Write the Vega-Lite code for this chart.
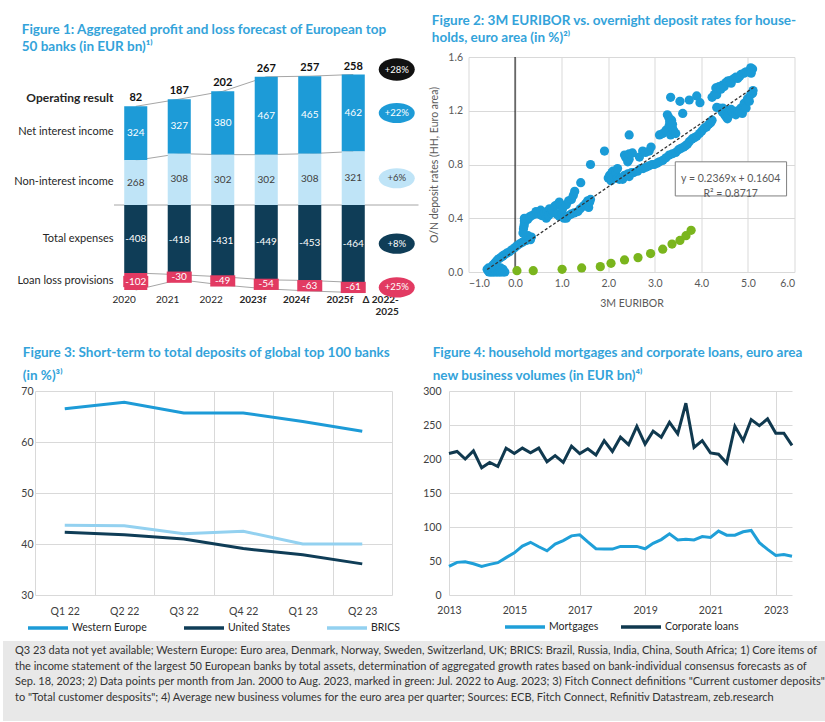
{
  "$schema": "https://vega.github.io/schema/vega-lite/v6.json",
  "background": "white",
  "padding": {"left": 0, "top": 13, "right": 0, "bottom": 0},
  "config": {
    "font": "Lato",
    "view": {"stroke": null},
    "axis": {"labelFont": "Lato", "labelFontSize": 10.5, "labelColor": "#404040", "titleFont": "Lato", "titleFontSize": 10.5, "titleFontWeight": "normal", "titleColor": "#404040", "gridColor": "#d9d9d9", "domain": false, "ticks": false, "labelOverlap": false},
    "legend": {"labelFont": "Lato", "labelFontSize": 10.5, "labelColor": "#262626", "layout": {"bottom": {"anchor": "middle"}}},
    "title": {"font": "Lato", "fontWeight": "bold", "fontSize": 13.5, "color": "#33a3da", "anchor": "start", "frame": "bounds"}
  },
  "resolve": {"scale": {"color": "independent"}, "legend": {"color": "independent"}},
  "datasets": {
    "pl": [
      {"year": "2020", "item": "Net interest income", "v": 324, "o": 2, "op": "82"},
      {"year": "2020", "item": "Non-interest income", "v": 268, "o": 1},
      {"year": "2020", "item": "Total expenses", "v": -408, "o": 3},
      {"year": "2020", "item": "Loan loss provisions", "v": -102, "o": 4},
      {"year": "2021", "item": "Net interest income", "v": 327, "o": 2, "op": "187"},
      {"year": "2021", "item": "Non-interest income", "v": 308, "o": 1},
      {"year": "2021", "item": "Total expenses", "v": -418, "o": 3},
      {"year": "2021", "item": "Loan loss provisions", "v": -30, "o": 4},
      {"year": "2022", "item": "Net interest income", "v": 380, "o": 2, "op": "202"},
      {"year": "2022", "item": "Non-interest income", "v": 302, "o": 1},
      {"year": "2022", "item": "Total expenses", "v": -431, "o": 3},
      {"year": "2022", "item": "Loan loss provisions", "v": -49, "o": 4},
      {"year": "2023f", "item": "Net interest income", "v": 467, "o": 2, "op": "267"},
      {"year": "2023f", "item": "Non-interest income", "v": 302, "o": 1},
      {"year": "2023f", "item": "Total expenses", "v": -449, "o": 3},
      {"year": "2023f", "item": "Loan loss provisions", "v": -54, "o": 4},
      {"year": "2024f", "item": "Net interest income", "v": 465, "o": 2, "op": "257"},
      {"year": "2024f", "item": "Non-interest income", "v": 308, "o": 1},
      {"year": "2024f", "item": "Total expenses", "v": -453, "o": 3},
      {"year": "2024f", "item": "Loan loss provisions", "v": -63, "o": 4},
      {"year": "2025f", "item": "Net interest income", "v": 462, "o": 2, "op": "258", "opd": "+28%", "delta": "+22%"},
      {"year": "2025f", "item": "Non-interest income", "v": 321, "o": 1, "delta": "+6%"},
      {"year": "2025f", "item": "Total expenses", "v": -464, "o": 3, "delta": "+8%"},
      {"year": "2025f", "item": "Loan loss provisions", "v": -61, "o": 4, "delta": "+25%"}
    ],
    "sc": [
      {"x": -0.6, "y": 0.02, "s": "b"}, {"x": -0.58, "y": 0.01, "s": "b"}, {"x": -0.57, "y": 0.03, "s": "b"}, {"x": -0.56, "y": 0.0, "s": "b"}, {"x": -0.55, "y": 0.02, "s": "b"}, {"x": -0.54, "y": 0.01, "s": "b"}, {"x": -0.53, "y": 0.0, "s": "b"}, {"x": -0.52, "y": 0.03, "s": "b"}, {"x": -0.51, "y": 0.01, "s": "b"}, {"x": -0.5, "y": 0.0, "s": "b"}, {"x": -0.49, "y": 0.02, "s": "b"}, {"x": -0.48, "y": 0.01, "s": "b"}, {"x": -0.47, "y": 0.0, "s": "b"}, {"x": -0.46, "y": 0.03, "s": "b"}, {"x": -0.45, "y": 0.01, "s": "b"}, {"x": -0.44, "y": 0.0, "s": "b"}, {"x": -0.43, "y": 0.02, "s": "b"}, {"x": -0.42, "y": 0.04, "s": "b"}, {"x": -0.41, "y": 0.01, "s": "b"}, {"x": -0.4, "y": 0.0, "s": "b"}, {"x": -0.39, "y": 0.02, "s": "b"}, {"x": -0.38, "y": 0.03, "s": "b"}, {"x": -0.37, "y": 0.0, "s": "b"}, {"x": -0.36, "y": 0.01, "s": "b"}, {"x": -0.35, "y": 0.02, "s": "b"}, {"x": -0.33, "y": 0.0, "s": "b"}, {"x": -0.32, "y": 0.01, "s": "b"}, {"x": -0.31, "y": 0.03, "s": "b"}, {"x": -0.3, "y": 0.0, "s": "b"}, {"x": -0.28, "y": 0.01, "s": "b"}, {"x": -0.26, "y": 0.02, "s": "b"}, {"x": -0.25, "y": 0.0, "s": "b"}, {"x": -0.22, "y": 0.0, "s": "b"},
      {"x": -0.48, "y": 0.05, "s": "b"}, {"x": -0.44, "y": 0.065, "s": "b"}, {"x": -0.41, "y": 0.077, "s": "b"}, {"x": -0.38, "y": 0.09, "s": "b"}, {"x": -0.34, "y": 0.1, "s": "b"}, {"x": -0.3, "y": 0.11, "s": "b"}, {"x": -0.26, "y": 0.12, "s": "b"}, {"x": -0.23, "y": 0.128, "s": "b"}, {"x": -0.18, "y": 0.14, "s": "b"}, {"x": -0.12, "y": 0.15, "s": "b"}, {"x": -0.07, "y": 0.165, "s": "b"}, {"x": -0.01, "y": 0.18, "s": "b"}, {"x": 0.04, "y": 0.195, "s": "b"}, {"x": 0.1, "y": 0.21, "s": "b"}, {"x": 0.15, "y": 0.22, "s": "b"}, {"x": 0.2, "y": 0.23, "s": "b"}, {"x": 0.24, "y": 0.235, "s": "b"}, {"x": 0.3, "y": 0.25, "s": "b"}, {"x": 0.35, "y": 0.26, "s": "b"}, {"x": 0.28, "y": 0.27, "s": "b"}, {"x": 0.33, "y": 0.24, "s": "b"},
      {"x": 0.17, "y": 0.29, "s": "b"}, {"x": 0.18, "y": 0.32, "s": "b"}, {"x": 0.19, "y": 0.34, "s": "b"}, {"x": 0.2, "y": 0.36, "s": "b"}, {"x": 0.2, "y": 0.38, "s": "b"}, {"x": 0.22, "y": 0.39, "s": "b"}, {"x": 0.27, "y": 0.39, "s": "b"}, {"x": 0.25, "y": 0.4, "s": "b"},
      {"x": 0.2, "y": 0.4, "s": "b"}, {"x": 0.31, "y": 0.41, "s": "b"}, {"x": 0.36, "y": 0.42, "s": "b"}, {"x": 0.42, "y": 0.43, "s": "b"}, {"x": 0.45, "y": 0.45, "s": "b"}, {"x": 0.52, "y": 0.43, "s": "b"}, {"x": 0.55, "y": 0.46, "s": "b"}, {"x": 0.57, "y": 0.42, "s": "b"}, {"x": 0.63, "y": 0.44, "s": "b"}, {"x": 0.67, "y": 0.4, "s": "b"}, {"x": 0.68, "y": 0.45, "s": "b"}, {"x": 0.72, "y": 0.42, "s": "b"}, {"x": 0.74, "y": 0.47, "s": "b"}, {"x": 0.78, "y": 0.44, "s": "b"}, {"x": 0.8, "y": 0.46, "s": "b"}, {"x": 0.85, "y": 0.49, "s": "b"}, {"x": 0.9, "y": 0.5, "s": "b"}, {"x": 0.9, "y": 0.43, "s": "b"}, {"x": 0.95, "y": 0.52, "s": "b"}, {"x": 0.95, "y": 0.415, "s": "b"}, {"x": 0.98, "y": 0.5, "s": "b"}, {"x": 1.0, "y": 0.44, "s": "b"}, {"x": 1.02, "y": 0.47, "s": "b"}, {"x": 1.05, "y": 0.4, "s": "b"}, {"x": 1.1, "y": 0.4, "s": "b"}, {"x": 1.1, "y": 0.5, "s": "b"}, {"x": 1.15, "y": 0.42, "s": "b"}, {"x": 1.15, "y": 0.53, "s": "b"}, {"x": 1.2, "y": 0.43, "s": "b"}, {"x": 1.21, "y": 0.54, "s": "b"}, {"x": 1.25, "y": 0.57, "s": "b"}, {"x": 1.27, "y": 0.44, "s": "b"}, {"x": 1.28, "y": 0.6, "s": "b"}, {"x": 1.35, "y": 0.45, "s": "b"}, {"x": 1.4, "y": 0.47, "s": "b"}, {"x": 1.41, "y": 0.665, "s": "b"}, {"x": 1.46, "y": 0.49, "s": "b"}, {"x": 1.52, "y": 0.51, "s": "b"}, {"x": 1.56, "y": 0.53, "s": "b"}, {"x": 1.58, "y": 0.48, "s": "b"}, {"x": 1.6, "y": 0.52, "s": "b"}, {"x": 1.62, "y": 0.54, "s": "b"}, {"x": 1.62, "y": 0.8, "s": "b"}, {"x": 1.92, "y": 0.9, "s": "b"},
      {"x": 2.0, "y": 0.7, "s": "b"}, {"x": 2.03, "y": 0.72, "s": "b"}, {"x": 2.06, "y": 0.68, "s": "b"}, {"x": 2.08, "y": 0.74, "s": "b"}, {"x": 2.1, "y": 0.75, "s": "b"}, {"x": 2.12, "y": 0.71, "s": "b"}, {"x": 2.16, "y": 0.74, "s": "b"}, {"x": 2.2, "y": 0.7, "s": "b"}, {"x": 2.2, "y": 0.77, "s": "b"}, {"x": 2.24, "y": 0.69, "s": "b"}, {"x": 2.28, "y": 0.7, "s": "b"}, {"x": 2.31, "y": 0.69, "s": "b"}, {"x": 2.35, "y": 0.72, "s": "b"}, {"x": 2.35, "y": 0.87, "s": "b"}, {"x": 2.38, "y": 0.72, "s": "b"}, {"x": 2.38, "y": 0.85, "s": "b"}, {"x": 2.42, "y": 0.73, "s": "b"}, {"x": 2.42, "y": 0.82, "s": "b"}, {"x": 2.45, "y": 0.71, "s": "b"}, {"x": 2.45, "y": 0.84, "s": "b"}, {"x": 2.45, "y": 0.88, "s": "b"}, {"x": 2.45, "y": 1.02, "s": "b"}, {"x": 2.5, "y": 0.74, "s": "b"}, {"x": 2.52, "y": 0.886, "s": "b"},
      {"x": 2.55, "y": 0.74, "s": "b"}, {"x": 2.63, "y": 0.75, "s": "b"}, {"x": 2.7, "y": 0.77, "s": "b"}, {"x": 2.75, "y": 0.77, "s": "b"}, {"x": 2.81, "y": 0.78, "s": "b"}, {"x": 2.88, "y": 0.79, "s": "b"}, {"x": 2.94, "y": 0.8, "s": "b"}, {"x": 2.99, "y": 0.8, "s": "b"}, {"x": 3.05, "y": 0.81, "s": "b"}, {"x": 3.1, "y": 0.82, "s": "b"}, {"x": 3.17, "y": 0.83, "s": "b"}, {"x": 3.24, "y": 0.85, "s": "b"}, {"x": 3.31, "y": 0.87, "s": "b"}, {"x": 3.38, "y": 0.88, "s": "b"}, {"x": 3.45, "y": 0.89, "s": "b"}, {"x": 3.51, "y": 0.91, "s": "b"}, {"x": 3.56, "y": 0.92, "s": "b"}, {"x": 3.62, "y": 0.93, "s": "b"}, {"x": 3.66, "y": 0.94, "s": "b"}, {"x": 3.7, "y": 0.95, "s": "b"}, {"x": 3.74, "y": 0.97, "s": "b"}, {"x": 3.8, "y": 0.99, "s": "b"}, {"x": 3.85, "y": 1.0, "s": "b"}, {"x": 3.9, "y": 1.01, "s": "b"}, {"x": 3.96, "y": 1.03, "s": "b"}, {"x": 4.01, "y": 1.05, "s": "b"}, {"x": 4.06, "y": 1.07, "s": "b"}, {"x": 4.11, "y": 1.08, "s": "b"}, {"x": 4.16, "y": 1.1, "s": "b"}, {"x": 4.2, "y": 1.11, "s": "b"}, {"x": 4.23, "y": 1.13, "s": "b"},
      {"x": 2.67, "y": 0.855, "s": "b"}, {"x": 2.74, "y": 0.9, "s": "b"}, {"x": 2.8, "y": 0.89, "s": "b"}, {"x": 2.88, "y": 0.9, "s": "b"}, {"x": 2.92, "y": 0.93, "s": "b"},
      {"x": 3.1, "y": 1.02, "s": "b"}, {"x": 3.17, "y": 1.03, "s": "b"}, {"x": 3.24, "y": 1.055, "s": "b"}, {"x": 3.27, "y": 1.17, "s": "b"}, {"x": 3.3, "y": 1.15, "s": "b"}, {"x": 3.31, "y": 1.09, "s": "b"}, {"x": 3.32, "y": 1.12, "s": "b"}, {"x": 3.34, "y": 1.02, "s": "b"}, {"x": 3.34, "y": 1.3, "s": "b"}, {"x": 3.36, "y": 1.13, "s": "b"}, {"x": 3.38, "y": 1.07, "s": "b"}, {"x": 3.38, "y": 1.1, "s": "b"}, {"x": 3.41, "y": 1.05, "s": "b"}, {"x": 3.45, "y": 1.03, "s": "b"}, {"x": 3.54, "y": 1.27, "s": "b"}, {"x": 3.6, "y": 1.18, "s": "b"}, {"x": 3.74, "y": 1.28, "s": "b"}, {"x": 3.9, "y": 1.31, "s": "b"}, {"x": 3.97, "y": 1.26, "s": "b"},
      {"x": 4.33, "y": 1.225, "s": "b"}, {"x": 4.38, "y": 1.22, "s": "b"}, {"x": 4.45, "y": 1.19, "s": "b"}, {"x": 4.46, "y": 1.22, "s": "b"}, {"x": 4.5, "y": 1.17, "s": "b"}, {"x": 4.53, "y": 1.155, "s": "b"}, {"x": 4.56, "y": 1.14, "s": "b"}, {"x": 4.58, "y": 1.16, "s": "b"}, {"x": 4.6, "y": 1.205, "s": "b"}, {"x": 4.64, "y": 1.21, "s": "b"}, {"x": 4.67, "y": 1.19, "s": "b"}, {"x": 4.7, "y": 1.18, "s": "b"}, {"x": 4.74, "y": 1.17, "s": "b"}, {"x": 4.78, "y": 1.2, "s": "b"}, {"x": 4.82, "y": 1.19, "s": "b"}, {"x": 4.85, "y": 1.22, "s": "b"}, {"x": 4.88, "y": 1.18, "s": "b"}, {"x": 4.92, "y": 1.255, "s": "b"}, {"x": 4.96, "y": 1.22, "s": "b"}, {"x": 4.99, "y": 1.29, "s": "b"}, {"x": 5.03, "y": 1.27, "s": "b"}, {"x": 5.06, "y": 1.32, "s": "b"}, {"x": 5.1, "y": 1.33, "s": "b"}, {"x": 5.11, "y": 1.35, "s": "b"},
      {"x": 4.23, "y": 1.3, "s": "b"}, {"x": 4.28, "y": 1.32, "s": "b"}, {"x": 4.33, "y": 1.32, "s": "b"}, {"x": 4.31, "y": 1.37, "s": "b"}, {"x": 4.35, "y": 1.37, "s": "b"}, {"x": 4.38, "y": 1.38, "s": "b"}, {"x": 4.42, "y": 1.36, "s": "b"}, {"x": 4.45, "y": 1.39, "s": "b"}, {"x": 4.49, "y": 1.38, "s": "b"}, {"x": 4.53, "y": 1.41, "s": "b"}, {"x": 4.56, "y": 1.42, "s": "b"}, {"x": 4.61, "y": 1.425, "s": "b"}, {"x": 4.64, "y": 1.405, "s": "b"}, {"x": 4.7, "y": 1.44, "s": "b"}, {"x": 4.74, "y": 1.45, "s": "b"}, {"x": 4.78, "y": 1.44, "s": "b"}, {"x": 4.82, "y": 1.455, "s": "b"}, {"x": 4.85, "y": 1.47, "s": "b"}, {"x": 4.92, "y": 1.48, "s": "b"}, {"x": 4.96, "y": 1.49, "s": "b"}, {"x": 5.03, "y": 1.49, "s": "b"}, {"x": 5.06, "y": 1.52, "s": "b"}, {"x": 5.1, "y": 1.51, "s": "b"}, {"x": 5.07, "y": 1.48, "s": "b"},
      {"x": 0.04, "y": 0.01, "s": "g"}, {"x": 0.39, "y": 0.01, "s": "g"}, {"x": 1.01, "y": 0.02, "s": "g"}, {"x": 1.43, "y": 0.03, "s": "g"}, {"x": 1.83, "y": 0.04, "s": "g"}, {"x": 2.06, "y": 0.065, "s": "g"}, {"x": 2.35, "y": 0.09, "s": "g"}, {"x": 2.64, "y": 0.107, "s": "g"}, {"x": 2.91, "y": 0.137, "s": "g"}, {"x": 3.17, "y": 0.17, "s": "g"}, {"x": 3.37, "y": 0.208, "s": "g"}, {"x": 3.54, "y": 0.235, "s": "g"}, {"x": 3.67, "y": 0.27, "s": "g"}, {"x": 3.78, "y": 0.31, "s": "g"}
    ],
    "tr": [{"x": -0.6, "y": 0.018}, {"x": 5.12, "y": 1.373}],
    "dep": [
      {"q": "Q1 22", "Western Europe": 66.5, "United States": 42.3, "BRICS": 43.7},
      {"q": "Q2 22", "Western Europe": 67.8, "United States": 41.8, "BRICS": 43.6},
      {"q": "Q3 22", "Western Europe": 65.7, "United States": 41.0, "BRICS": 42.0},
      {"q": "Q4 22", "Western Europe": 65.7, "United States": 39.1, "BRICS": 42.5},
      {"q": "Q1 23", "Western Europe": 64.0, "United States": 37.9, "BRICS": 40.0},
      {"q": "Q2 23", "Western Europe": 62.1, "United States": 36.1, "BRICS": 40.0}
    ],
    "loans": [
      {"d": "2013-01-01", "Mortgages": 42, "Corporate loans": 208}, {"d": "2013-04-01", "Mortgages": 48, "Corporate loans": 211}, {"d": "2013-07-01", "Mortgages": 49, "Corporate loans": 200}, {"d": "2013-10-01", "Mortgages": 46, "Corporate loans": 212},
      {"d": "2014-01-01", "Mortgages": 42, "Corporate loans": 187}, {"d": "2014-04-01", "Mortgages": 45, "Corporate loans": 195}, {"d": "2014-07-01", "Mortgages": 47.5, "Corporate loans": 189}, {"d": "2014-10-01", "Mortgages": 55, "Corporate loans": 216},
      {"d": "2015-01-01", "Mortgages": 62, "Corporate loans": 208}, {"d": "2015-04-01", "Mortgages": 72, "Corporate loans": 216}, {"d": "2015-07-01", "Mortgages": 77.5, "Corporate loans": 209}, {"d": "2015-10-01", "Mortgages": 71, "Corporate loans": 216},
      {"d": "2016-01-01", "Mortgages": 65, "Corporate loans": 196}, {"d": "2016-04-01", "Mortgages": 75, "Corporate loans": 205}, {"d": "2016-07-01", "Mortgages": 80, "Corporate loans": 195}, {"d": "2016-10-01", "Mortgages": 87, "Corporate loans": 219},
      {"d": "2017-01-01", "Mortgages": 88.5, "Corporate loans": 208}, {"d": "2017-04-01", "Mortgages": 78, "Corporate loans": 215}, {"d": "2017-07-01", "Mortgages": 68, "Corporate loans": 206}, {"d": "2017-10-01", "Mortgages": 67.5, "Corporate loans": 227},
      {"d": "2018-01-01", "Mortgages": 67.5, "Corporate loans": 211}, {"d": "2018-04-01", "Mortgages": 71.5, "Corporate loans": 232}, {"d": "2018-07-01", "Mortgages": 71.5, "Corporate loans": 221}, {"d": "2018-10-01", "Mortgages": 71.5, "Corporate loans": 248},
      {"d": "2019-01-01", "Mortgages": 68, "Corporate loans": 222}, {"d": "2019-04-01", "Mortgages": 76, "Corporate loans": 241}, {"d": "2019-07-01", "Mortgages": 81.5, "Corporate loans": 232}, {"d": "2019-10-01", "Mortgages": 90, "Corporate loans": 254},
      {"d": "2020-01-01", "Mortgages": 81, "Corporate loans": 237}, {"d": "2020-04-01", "Mortgages": 82, "Corporate loans": 282}, {"d": "2020-07-01", "Mortgages": 81, "Corporate loans": 217}, {"d": "2020-10-01", "Mortgages": 86, "Corporate loans": 227},
      {"d": "2021-01-01", "Mortgages": 84.5, "Corporate loans": 209}, {"d": "2021-04-01", "Mortgages": 94, "Corporate loans": 207}, {"d": "2021-07-01", "Mortgages": 88, "Corporate loans": 194}, {"d": "2021-10-01", "Mortgages": 88, "Corporate loans": 248},
      {"d": "2022-01-01", "Mortgages": 93, "Corporate loans": 227}, {"d": "2022-04-01", "Mortgages": 95, "Corporate loans": 258}, {"d": "2022-07-01", "Mortgages": 77, "Corporate loans": 249}, {"d": "2022-10-01", "Mortgages": 67, "Corporate loans": 259},
      {"d": "2023-01-01", "Mortgages": 58, "Corporate loans": 238}, {"d": "2023-04-01", "Mortgages": 59.5, "Corporate loans": 238}, {"d": "2023-07-01", "Mortgages": 57, "Corporate loans": 220}
    ]
  },
  "columns": 1,
  "spacing": 6,
  "concat": [
    {
      "columns": 1,
      "spacing": 28,
      "resolve": {"scale": {"color": "independent"}, "legend": {"color": "independent"}},
      "concat": [
        {
          "spacing": 6,
          "resolve": {"scale": {"color": "independent"}, "legend": {"color": "independent"}},
          "concat": [
            {"width": 1, "height": 1, "data": {"values": [{}]}, "mark": {"type": "point", "opacity": 0}},
            {
              "spacing": 10.5,
              "resolve": {"scale": {"color": "independent"}, "legend": {"color": "independent"}},
              "concat": [
                {
                  "title": {"text": ["Figure 1: Aggregated profit and loss forecast of European top", "50 banks (in EUR bn)¹⁾"], "lineHeight": 17, "offset": 4, "dx": 8},
                  "width": {"step": 43.5},
                  "height": 235.5,
                  "data": {"name": "pl"},
                  "layer": [
                    {
                      "data": {"values": [{}]},
                      "mark": {"type": "rule", "color": "#a6a6a6", "strokeWidth": 1},
                      "encoding": {"y": {"datum": 0, "type": "quantitative"}}
                    },
                    {
                      "transform": [{"stack": "v", "groupby": ["year"], "sort": [{"field": "o", "order": "ascending"}], "as": ["v0", "v1"]}],
                      "mark": {"type": "line", "color": "#a6a6a6", "strokeWidth": 1},
                      "encoding": {
                        "x": {"field": "year", "type": "nominal"},
                        "y": {"field": "v1", "type": "quantitative", "title": null},
                        "detail": {"field": "item", "type": "nominal"}
                      }
                    },
                    {
                      "mark": {"type": "bar", "width": {"band": 0.53}},
                      "encoding": {
                        "x": {
                          "field": "year", "type": "nominal", "title": null,
                          "scale": {"domain": ["2020", "2021", "2022", "2023f", "2024f", "2025f", "Δ 2022-2025"], "paddingInner": 0, "paddingOuter": 0},
                          "axis": {
                            "labelAngle": 0, "labelPadding": 7, "labelFontSize": 10, "labelColor": "#262626",
                            "labelExpr": "datum.value === 'Δ 2022-2025' ? ['Δ 2022-', '2025'] : datum.value",
                            "labelOffset": {"condition": {"test": "indexof(datum.value, 'Δ') === 0", "value": 2}, "value": 0},
                            "labelFontWeight": {"condition": {"test": "indexof(datum.value, 'f') > 0 || indexof(datum.value, 'Δ') === 0", "value": "bold"}, "value": "normal"}
                          }
                        },
                        "y": {
                          "field": "v", "type": "quantitative", "stack": "zero", "title": null,
                          "scale": {"domain": [-525, 888], "nice": false, "zero": false},
                          "axis": {
                            "values": [648, 444, 144, -198, -450], "grid": false, "labelOverlap": false, "labelPadding": 1, "labelColor": "#262626",
                            "labelExpr": "datum.value > 600 ? 'Operating result' : datum.value > 300 ? 'Net interest income' : datum.value > 0 ? 'Non-interest income' : datum.value > -300 ? 'Total expenses' : 'Loan loss provisions'",
                            "labelFontWeight": {"condition": {"test": "datum.value > 600", "value": "bold"}, "value": "normal"},
                            "labelFontSize": {"condition": {"test": "datum.value > 600", "value": 12}, "value": 11}
                          }
                        },
                        "color": {
                          "field": "item", "type": "nominal", "legend": null,
                          "scale": {"domain": ["Net interest income", "Non-interest income", "Total expenses", "Loan loss provisions"], "range": ["#1d9bd7", "#bfe4f7", "#0f3d57", "#e23a62"]}
                        },
                        "order": {"field": "o", "type": "quantitative"}
                      }
                    },
                    {
                      "mark": {"type": "point", "shape": "M-1,-0.45H1V0.45H-1Z", "size": 625, "filled": true, "color": "#e23a62"},
                      "encoding": {
                        "x": {"field": "year", "type": "nominal"},
                        "y": {"field": "v", "type": "quantitative", "stack": "zero", "bandPosition": 0.5, "title": null},
                        "detail": {"field": "item", "type": "nominal"},
                        "order": {"field": "o", "type": "quantitative"},
                        "opacity": {"condition": {"test": "datum.item === 'Loan loss provisions'", "value": 1}, "value": 0}
                      }
                    },
                    {
                      "mark": {"type": "text", "fontSize": 10, "baseline": "middle"},
                      "encoding": {
                        "x": {"field": "year", "type": "nominal"},
                        "y": {"field": "v", "type": "quantitative", "stack": "zero", "bandPosition": 0.5, "title": null},
                        "detail": {"field": "item", "type": "nominal"},
                        "order": {"field": "o", "type": "quantitative"},
                        "text": {"field": "v", "type": "nominal"},
                        "color": {"condition": {"test": "datum.item === 'Non-interest income'", "value": "#404040"}, "value": "white"}
                      }
                    },
                    {
                      "transform": [
                        {"filter": "datum.v > 0"},
                        {"joinaggregate": [{"op": "sum", "field": "v", "as": "top"}], "groupby": ["year"]},
                        {"filter": "isValid(datum.op)"}
                      ],
                      "mark": {"type": "text", "fontSize": 11, "fontWeight": "bold", "baseline": "bottom", "dy": -3, "color": "#111111"},
                      "encoding": {
                        "x": {"field": "year", "type": "nominal"},
                        "y": {"field": "top", "type": "quantitative", "title": null},
                        "text": {"field": "op", "type": "nominal"}
                      }
                    },
                    {
                      "transform": [{"filter": "datum.year === '2025f'"}],
                      "mark": {"type": "point", "shape": "M-1,0A1,0.56,0,1,0,1,0A1,0.56,0,1,0,-1,0Z", "size": 1300, "filled": true, "opacity": 1},
                      "encoding": {
                        "x": {"datum": "Δ 2022-2025", "type": "nominal"},
                        "y": {"field": "v", "type": "quantitative", "stack": "zero", "bandPosition": 0.5, "title": null},
                        "color": {"field": "item", "type": "nominal"},
                        "order": {"field": "o", "type": "quantitative"}
                      }
                    },
                    {
                      "transform": [{"filter": "datum.year === '2025f'"}],
                      "mark": {"type": "text", "fontSize": 9.5, "baseline": "middle"},
                      "encoding": {
                        "x": {"datum": "Δ 2022-2025", "type": "nominal"},
                        "y": {"field": "v", "type": "quantitative", "stack": "zero", "bandPosition": 0.5, "title": null},
                        "detail": {"field": "item", "type": "nominal"},
                        "order": {"field": "o", "type": "quantitative"},
                        "text": {"field": "delta", "type": "nominal"},
                        "color": {"condition": {"test": "datum.item === 'Non-interest income'", "value": "#404040"}, "value": "white"}
                      }
                    },
                    {
                      "transform": [
                        {"filter": "datum.year === '2025f' && datum.v > 0"},
                        {"joinaggregate": [{"op": "sum", "field": "v", "as": "top"}]},
                        {"filter": "isValid(datum.opd)"}
                      ],
                      "mark": {"type": "point", "shape": "M-1,0A1,0.62,0,1,0,1,0A1,0.62,0,1,0,-1,0Z", "size": 1300, "filled": true, "opacity": 1, "color": "#111111", "yOffset": -5},
                      "encoding": {
                        "x": {"datum": "Δ 2022-2025", "type": "nominal"},
                        "y": {"field": "top", "type": "quantitative", "title": null}
                      }
                    },
                    {
                      "transform": [
                        {"filter": "datum.year === '2025f' && datum.v > 0"},
                        {"joinaggregate": [{"op": "sum", "field": "v", "as": "top"}]},
                        {"filter": "isValid(datum.opd)"}
                      ],
                      "mark": {"type": "text", "fontSize": 9.5, "baseline": "middle", "color": "white", "dy": -5},
                      "encoding": {
                        "x": {"datum": "Δ 2022-2025", "type": "nominal"},
                        "y": {"field": "top", "type": "quantitative", "title": null},
                        "text": {"field": "opd", "type": "nominal"}
                      }
                    }
                  ]
                },
                {
                  "title": {"text": ["Figure 2: 3M EURIBOR vs. overnight deposit rates for house-", "holds, euro area (in %)²⁾"], "lineHeight": 17, "offset": 8, "dx": 2},
                  "width": 326,
                  "height": 215,
                  "layer": [
                    {
                      "data": {"values": [{}]},
                      "mark": {"type": "rule", "color": "#000000", "strokeWidth": 1},
                      "encoding": {"x": {"datum": 0, "type": "quantitative"}}
                    },
                    {
                      "data": {"name": "sc"},
                      "mark": {"type": "circle", "size": 85, "opacity": 1},
                      "encoding": {
                        "x": {"field": "x", "type": "quantitative", "title": "3M EURIBOR", "scale": {"domain": [-1, 6], "nice": false, "zero": false},
                          "axis": {"values": [-1, 0, 1, 2, 3, 4, 5, 6], "format": ".1f", "grid": true, "labelOverlap": false, "labelPadding": 6, "titlePadding": 10, "labelColor": "#595959", "titleColor": "#595959"}},
                        "y": {"field": "y", "type": "quantitative", "title": "O/N deposit rates (HH, Euro area)", "scale": {"domain": [0, 1.6], "nice": false},
                          "axis": {"values": [0, 0.2, 0.4, 0.6, 0.8, 1.0, 1.2, 1.4, 1.6], "format": ".1f", "grid": true, "labelOverlap": false, "labelPadding": 6, "titlePadding": 8, "labelColor": "#595959", "titleColor": "#595959"}},
                        "color": {"field": "s", "type": "nominal", "legend": null, "scale": {"domain": ["b", "g"], "range": ["#1a9bd7", "#7ab51d"]}}
                      }
                    },
                    {
                      "data": {"name": "tr"},
                      "mark": {"type": "line", "color": "#333333", "strokeWidth": 1.3, "strokeDash": [3, 2]},
                      "encoding": {"x": {"field": "x", "type": "quantitative"}, "y": {"field": "y", "type": "quantitative"}}
                    },
                    {
                      "data": {"values": [{}]},
                      "mark": {"type": "rect", "fill": "white", "stroke": "#7f7f7f", "strokeWidth": 1},
                      "encoding": {
                        "x": {"datum": 3.44, "type": "quantitative"}, "x2": {"datum": 5.83},
                        "y": {"datum": 0.82, "type": "quantitative"}, "y2": {"datum": 0.566}
                      }
                    },
                    {
                      "data": {"values": [{}]},
                      "mark": {"type": "text", "fontSize": 10.5, "color": "#595959", "align": "center", "baseline": "middle", "lineHeight": 15},
                      "encoding": {
                        "x": {"datum": 4.63, "type": "quantitative"},
                        "y": {"datum": 0.693, "type": "quantitative"},
                        "text": {"value": ["y = 0.2369x + 0.1604", "R² = 0.8717"]}
                      }
                    }
                  ]
                }
              ]
            }
          ]
        },
        {
          "spacing": 13,
          "resolve": {"scale": {"color": "independent"}, "legend": {"color": "independent"}},
          "concat": [
            {"width": 1, "height": 1, "data": {"values": [{}]}, "mark": {"type": "point", "opacity": 0}},
            {
              "spacing": 21,
              "resolve": {"scale": {"color": "independent"}, "legend": {"color": "independent"}},
              "concat": [
                {
                  "title": {"text": ["Figure 3: Short-term to total deposits of global top 100 banks", "(in %)³⁾"], "lineHeight": 23, "offset": 4, "dx": 2},
                  "width": 357,
                  "height": 204,
                  "data": {"name": "dep"},
                  "transform": [{"fold": ["Western Europe", "United States", "BRICS"], "as": ["r", "v"]}],
                  "mark": {"type": "line", "strokeWidth": 3},
                  "encoding": {
                    "x": {"field": "q", "type": "ordinal", "sort": null, "title": null, "scale": {"type": "band", "paddingInner": 0, "paddingOuter": 0},
                      "axis": {"tickBand": "extent", "grid": true, "labelAngle": 0, "labelPadding": 11}},
                    "y": {"field": "v", "type": "quantitative", "title": null, "scale": {"domain": [30, 70], "nice": false, "zero": false},
                      "axis": {"values": [30, 40, 50, 60, 70], "grid": true, "labelPadding": 2, "minExtent": 10}},
                    "color": {"field": "r", "type": "nominal", "sort": null,
                      "scale": {"domain": ["Western Europe", "United States", "BRICS"], "range": ["#1d9bd7", "#0f3d57", "#93d1f0"]},
                      "legend": {"orient": "bottom", "direction": "horizontal", "columns": 3, "gridAlign": "none", "title": null, "symbolType": "stroke", "symbolSize": 1600, "symbolStrokeWidth": 3.5, "labelOffset": 2, "columnPadding": 30, "offset": -11, "padding": 0}}
                  }
                },
                {
                  "title": {"text": ["Figure 4: household mortgages and corporate loans, euro area", "new business volumes (in EUR bn)⁴⁾"], "lineHeight": 23, "offset": 4, "dx": 10},
                  "width": 343,
                  "height": 204,
                  "data": {"name": "loans"},
                  "transform": [{"fold": ["Mortgages", "Corporate loans"], "as": ["s", "v"]}],
                  "mark": {"type": "line", "strokeWidth": 3},
                  "encoding": {
                    "x": {"field": "d", "type": "temporal", "title": null,
                      "scale": {"type": "utc", "domain": [{"year": 2013, "month": 1, "date": 1, "utc": true}, {"year": 2023, "month": 7, "date": 1, "utc": true}], "nice": false},
                      "axis": {"values": [{"year": 2013, "utc": true}, {"year": 2015, "utc": true}, {"year": 2017, "utc": true}, {"year": 2019, "utc": true}, {"year": 2021, "utc": true}, {"year": 2023, "utc": true}], "format": "%Y", "grid": true, "labelPadding": 10, "labelFlush": false}},
                    "y": {"field": "v", "type": "quantitative", "title": null, "scale": {"domain": [0, 300], "nice": false},
                      "axis": {"values": [0, 50, 100, 150, 200, 250, 300], "grid": true, "labelPadding": 8, "minExtent": 10}},
                    "color": {"field": "s", "type": "nominal", "sort": null,
                      "scale": {"domain": ["Mortgages", "Corporate loans"], "range": ["#1f9fd8", "#10394f"]},
                      "legend": {"orient": "bottom", "direction": "horizontal", "columns": 2, "gridAlign": "none", "title": null, "symbolType": "stroke", "symbolSize": 1600, "symbolStrokeWidth": 3.5, "labelOffset": 2, "columnPadding": 15, "offset": -11, "padding": 0}}
                  }
                }
              ]
            }
          ]
        }
      ]
    },
    {
      "width": 825,
      "height": 80,
      "view": {"fill": "#e8e8e8", "stroke": null},
      "data": {"values": [{}]},
      "mark": {"type": "rect", "color": "#e8e8e8"},
      "title": {
        "text": [
          "Q3 23 data not yet available; Western Europe: Euro area, Denmark, Norway, Sweden, Switzerland, UK; BRICS: Brazil, Russia, India, China, South Africa; 1) Core items of",
          "the income statement of the largest 50 European banks by total assets, determination of aggregated growth rates based on bank-individual consensus forecasts as of",
          "Sep. 18, 2023; 2) Data points per month from Jan. 2000 to Aug. 2023, marked in green: Jul. 2022 to Aug. 2023; 3) Fitch Connect definitions \"Current customer deposits\"",
          "to \"Total customer desposits\"; 4) Average new business volumes for the euro area per quarter; Sources: ECB, Fitch Connect, Refinitiv Datastream, zeb.research"
        ],
        "orient": "bottom", "offset": -76, "anchor": "start", "frame": "group", "dx": 12,
        "fontSize": 11, "fontWeight": "normal", "color": "#333333", "lineHeight": 15.5
      }
    }
  ]
}
